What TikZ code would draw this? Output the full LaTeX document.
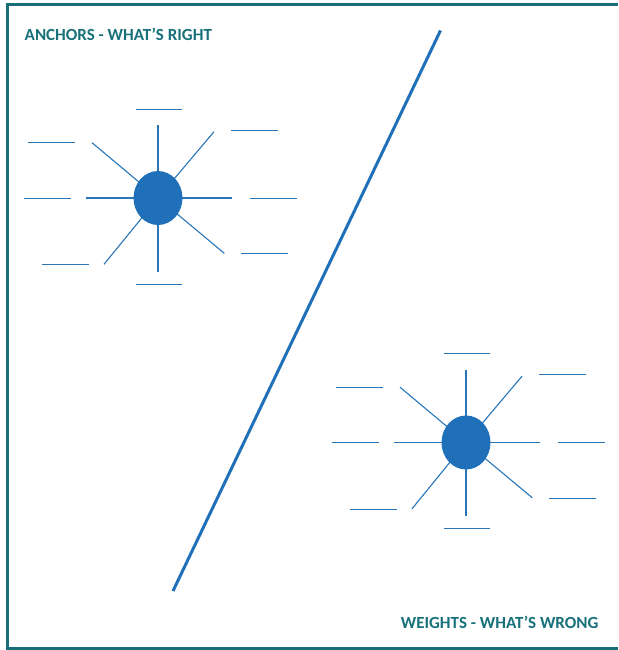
\documentclass[tikz,border=0pt]{standalone}
\usepackage{fontspec}
\setmainfont{Carlito}
\usetikzlibrary{shapes.geometric}
\definecolor{frameteal}{HTML}{176E77}
\definecolor{titleteal}{HTML}{17707A}
\definecolor{sunblue}{HTML}{1F70B8}
\definecolor{rayblue}{HTML}{2A74B8}
\tikzset{
  frameline/.style={draw=frameteal, line width=3pt},
  title/.style={text=titleteal, font=\bfseries\fontsize{17}{20}\selectfont, inner sep=0pt, anchor=base west},
  core/.style={ellipse, fill=sunblue, minimum width=49pt, minimum height=54pt, inner sep=0pt},
  ray/.style={draw=rayblue, line width=1.1pt},
  blank/.style={draw=rayblue, line width=1pt},
  slash/.style={draw=sunblue, line width=3pt},
}
\newcommand{\sunburst}[3]{%
  \begin{scope}[shift={(#2,#3)}]
    \coordinate (#1-c) at (0,0);
    \coordinate (#1-r1) at (0,-73);
    \coordinate (#1-r2) at (56,-66.3);
    \coordinate (#1-r3) at (73.7,0);
    \coordinate (#1-r4) at (66.3,55.3);
    \coordinate (#1-r5) at (0,73.7);
    \coordinate (#1-r6) at (-54,66.3);
    \coordinate (#1-r7) at (-72,0);
    \coordinate (#1-r8) at (-66,-55.3);
    \foreach \i in {1,...,8} {\draw[ray] (#1-c) -- (#1-r\i);}
    \node[core] (#1) at (#1-c) {};
    \coordinate (#1-b1a) at (-22,-88.7);   \coordinate (#1-b1b) at (24.3,-88.7);
    \coordinate (#1-b2a) at (73,-67.7);    \coordinate (#1-b2b) at (119.7,-67.7);
    \coordinate (#1-b3a) at (92,0);        \coordinate (#1-b3b) at (138.7,0);
    \coordinate (#1-b4a) at (83,55.7);     \coordinate (#1-b4b) at (129.7,55.7);
    \coordinate (#1-b5a) at (-22,86.3);    \coordinate (#1-b5b) at (24.3,86.3);
    \coordinate (#1-b6a) at (-115.7,66.7); \coordinate (#1-b6b) at (-69,66.7);
    \coordinate (#1-b7a) at (-134,0);      \coordinate (#1-b7b) at (-87,0);
    \coordinate (#1-b8a) at (-129.7,-55.3);\coordinate (#1-b8b) at (-83,-55.3);
    \foreach \i in {1,...,8} {\draw[blank] (#1-b\i a) -- (#1-b\i b);}
  \end{scope}%
}
\begin{document}
\begin{tikzpicture}[x=1pt,y=-1pt]
\useasboundingbox (0,0) rectangle (618,650);
\coordinate (f1) at (618,5);
\coordinate (f2) at (7,5);
\coordinate (f3) at (7,648);
\coordinate (f4) at (618,648);
\draw[frameline] (f1) -- (f2) -- (f3) -- (f4);
\node[title] (t1) at (24.5,40.7) {ANCHORS - WHAT’S RIGHT};
\node[title] (t2) at (400.7,628.3) {WEIGHTS - WHAT’S WRONG};
\coordinate (s1) at (440.5,30.5);
\coordinate (s2) at (173,591);
\draw[slash] (s1) -- (s2);
\sunburst{a}{158}{198}
\sunburst{w}{466}{442.5}
\end{tikzpicture}
\end{document}
